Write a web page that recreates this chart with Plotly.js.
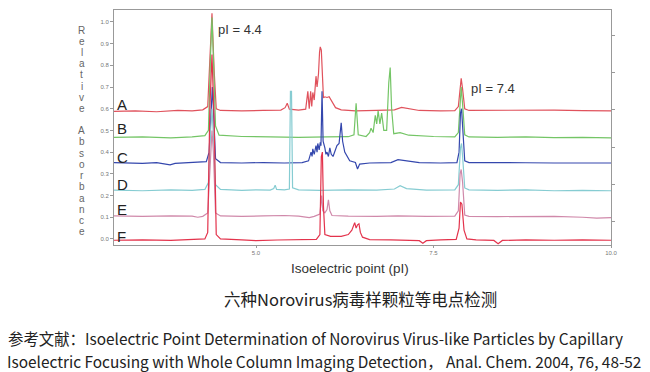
<!DOCTYPE html>
<html>
<head>
<meta charset="utf-8">
<script src="https://cdn.plot.ly/plotly-3.0.1.min.js"></script>
<style>
html,body{margin:0;padding:0;background:#fff;}
#chart{width:650px;height:372px;}
</style>
</head>
<body>
<div id="chart"></div>
<script>
// ---- data ----
const seriesNames = ["A", "B", "C", "D", "E", "F"];

const xA = [3.0,3.3,3.6,3.9,4.1,4.25,4.32,4.35,4.38,4.41,4.44,4.5,4.8,5.1,5.35,5.41,5.44,5.47,5.6,5.70,5.73,5.75,5.77,5.785,5.80,5.82,5.845,5.86,5.88,5.895,5.905,5.92,5.935,5.95,5.97,6.0,6.03,6.07,6.12,6.2,6.4,6.7,6.95,7.05,7.15,7.3,7.6,7.8,7.85,7.875,7.89,7.91,7.94,8.0,8.3,8.6,8.9,9.2,9.6,10.0];
const yA = [0.588,0.590,0.586,0.592,0.590,0.595,0.61,0.80,1.04,0.78,0.60,0.592,0.590,0.592,0.594,0.605,0.625,0.598,0.594,0.598,0.68,0.60,0.68,0.61,0.675,0.64,0.75,0.70,0.76,0.86,0.885,0.87,0.70,0.65,0.655,0.652,0.655,0.63,0.605,0.595,0.590,0.592,0.595,0.606,0.60,0.592,0.590,0.591,0.61,0.70,0.74,0.69,0.60,0.592,0.592,0.595,0.592,0.594,0.591,0.590];

const xB = [3.0,3.4,3.8,4.1,4.28,4.33,4.36,4.38,4.40,4.43,4.48,4.8,5.2,5.6,6.0,6.3,6.38,6.41,6.44,6.55,6.60,6.62,6.65,6.68,6.70,6.72,6.745,6.77,6.80,6.84,6.87,6.89,6.91,6.94,7.03,7.15,7.5,7.8,7.85,7.875,7.89,7.91,7.94,8.0,8.4,8.8,9.2,9.6,10.0];
const yB = [0.468,0.470,0.466,0.470,0.476,0.50,0.85,1.02,0.84,0.52,0.478,0.472,0.470,0.468,0.470,0.471,0.48,0.625,0.48,0.472,0.49,0.51,0.49,0.57,0.53,0.59,0.53,0.58,0.50,0.50,0.72,0.79,0.60,0.485,0.49,0.478,0.472,0.470,0.49,0.62,0.70,0.62,0.48,0.470,0.468,0.470,0.467,0.468,0.466];

const xC = [3.0,3.2,3.4,3.6,3.72,3.79,3.86,4.0,4.2,4.3,4.34,4.37,4.385,4.40,4.43,4.5,4.8,5.1,5.4,5.65,5.74,5.775,5.79,5.80,5.82,5.845,5.86,5.87,5.89,5.905,5.915,5.93,5.945,5.97,5.985,6.0,6.02,6.04,6.06,6.085,6.11,6.14,6.17,6.20,6.22,6.25,6.32,6.40,6.43,6.46,6.6,6.9,7.0,7.1,7.3,7.6,7.83,7.86,7.88,7.895,7.91,7.94,8.0,8.4,8.8,9.2,9.6,10.0];
const yC = [0.352,0.350,0.348,0.352,0.347,0.341,0.348,0.350,0.352,0.356,0.40,0.66,0.70,0.60,0.37,0.352,0.350,0.352,0.350,0.352,0.36,0.40,0.38,0.415,0.39,0.43,0.40,0.44,0.41,0.445,0.43,0.68,0.45,0.42,0.39,0.40,0.38,0.42,0.39,0.38,0.40,0.43,0.44,0.535,0.45,0.40,0.36,0.352,0.322,0.345,0.350,0.352,0.365,0.36,0.352,0.350,0.352,0.40,0.58,0.60,0.52,0.36,0.352,0.350,0.351,0.350,0.351,0.350];

const xD = [3.0,3.4,3.8,4.1,4.28,4.33,4.36,4.38,4.40,4.43,4.5,4.8,5.0,5.2,5.25,5.27,5.29,5.4,5.47,5.485,5.50,5.515,5.6,5.9,6.3,6.7,6.95,7.03,7.12,7.4,7.8,7.85,7.88,7.895,7.91,7.94,8.0,8.4,8.8,9.2,9.6,10.0];
const yD = [0.225,0.222,0.226,0.224,0.228,0.26,0.50,0.60,0.48,0.25,0.228,0.224,0.226,0.225,0.232,0.248,0.228,0.226,0.23,0.68,0.68,0.235,0.226,0.224,0.226,0.225,0.23,0.245,0.232,0.225,0.226,0.25,0.42,0.44,0.38,0.235,0.226,0.224,0.226,0.222,0.224,0.222];

const xE = [3.0,3.4,3.8,4.1,4.18,4.25,4.32,4.36,4.38,4.40,4.43,4.5,4.8,5.1,5.4,5.6,5.75,5.82,5.9,5.925,5.94,5.97,6.0,6.02,6.04,6.07,6.3,6.7,7.0,7.4,7.8,7.85,7.875,7.89,7.91,7.94,8.0,8.4,8.8,9.2,9.6,9.8,10.0];
const yE = [0.106,0.104,0.106,0.105,0.100,0.104,0.12,0.40,0.50,0.40,0.12,0.106,0.104,0.106,0.108,0.105,0.098,0.104,0.115,0.20,0.13,0.12,0.135,0.18,0.13,0.108,0.105,0.104,0.106,0.104,0.105,0.13,0.30,0.32,0.26,0.11,0.104,0.103,0.105,0.104,0.100,0.096,0.098];

const xF = [3.0,3.4,3.8,4.1,4.28,4.32,4.35,4.38,4.41,4.44,4.5,4.8,5.0,5.3,5.6,5.85,5.90,5.92,5.935,5.95,5.97,6.05,6.2,6.3,6.35,6.37,6.39,6.41,6.43,6.45,6.47,6.50,6.6,6.9,7.2,7.30,7.35,7.40,7.6,7.82,7.86,7.88,7.9,7.93,7.97,8.1,8.35,8.41,8.47,8.8,9.2,9.6,10.0];
const yF = [-0.006,-0.004,-0.007,-0.004,0.0,0.03,0.60,0.85,0.55,0.02,0.0,-0.004,-0.008,-0.005,-0.004,-0.002,0.02,0.38,0.40,0.15,0.02,0.012,0.012,0.02,0.04,0.055,0.075,0.05,0.065,0.07,0.03,0.008,-0.003,-0.004,-0.005,-0.008,-0.02,-0.008,-0.004,-0.002,0.05,0.17,0.16,0.04,0.0,-0.004,-0.007,-0.022,-0.007,-0.004,-0.006,-0.004,-0.006];

const xTickVals = [5.0, 7.5, 10.0];
const xTickText = ["5.0", "7.5", "10.0"];
const peakLabels = ["pI = 4.4", "pI = 7.4"];
const xTitle = "Isoelectric point (pI)";
const yTitle = "Relative Absorbance";
const caption = "六种Norovirus病毒样颗粒等电点检测";
const refLine1 = "参考文献：Isoelectric Point Determination of Norovirus Virus-like Particles by Capillary";
const refLine2 = "Isoelectric Focusing with Whole Column Imaging Detection， Anal. Chem. 2004, 76, 48-52";

// ---- chart ----
const colors = ["#e0525c", "#74c566", "#3447ad", "#86ccd2", "#d089aa", "#e3334c"];
const xs = [xA, xB, xC, xD, xE, xF];
const ys = [yA, yB, yC, yD, yE, yF];

const traces = seriesNames.map((n, i) => ({
  type: "scatter", mode: "lines", name: n,
  x: xs[i], y: ys[i],
  line: {color: colors[i], width: 1.2},
  hoverinfo: "skip"
}));
// empty trace so the right-hand tick axis is drawn
traces.push({type: "scatter", mode: "lines", x: [], y: [], yaxis: "y2", showlegend: false, hoverinfo: "skip"});

const sans = "Liberation Sans, Arial, sans-serif";
const cjk = "Noto Sans CJK SC, sans-serif";
const plotTop = 10, plotH = 235;
const pyToPaper = py => (plotTop + plotH - py) / plotH;

const letterY = [0.62, 0.51, 0.375, 0.25, 0.135, 0.012];
const annotations = seriesNames.map((n, i) => ({
  x: 3.02, y: letterY[i], xref: "x", yref: "y", text: n, showarrow: false,
  xanchor: "left", yanchor: "middle",
  font: {family: sans, size: 15, color: "#222"}
}));
// vertical stacked y title, one upright letter per line
yTitle.split("").forEach((c, k) => {
  if (c === " ") return;
  annotations.push({x: -0.065, y: pyToPaper(30 + k * 11.2), xref: "paper", yref: "paper", text: c, showarrow: false,
    xanchor: "center", yanchor: "middle", font: {family: sans, size: 10, color: "#666"}});
});
annotations.push(
  {x: 4.44, y: 0.965, xref: "x", yref: "y", text: peakLabels[0], showarrow: false, xanchor: "left", yanchor: "middle",
   font: {family: sans, size: 13, color: "#333"}},
  {x: 8.0, y: 0.695, xref: "x", yref: "y", text: peakLabels[1], showarrow: false, xanchor: "left", yanchor: "middle",
   font: {family: sans, size: 13, color: "#333"}},
  {x: 0.475, y: pyToPaper(268), xref: "paper", yref: "paper", text: xTitle, showarrow: false, xanchor: "center", yanchor: "middle",
   font: {family: sans, size: 13.5, color: "#333"}},
  {x: 0.495, y: pyToPaper(299), xref: "paper", yref: "paper", text: caption, showarrow: false, xanchor: "center", yanchor: "middle",
   font: {family: cjk, size: 16.5, color: "#222"}},
  {x: -0.217, y: pyToPaper(338), xref: "paper", yref: "paper", text: refLine1, showarrow: false, xanchor: "left", yanchor: "middle",
   font: {family: cjk, size: 15.4, color: "#222"}},
  {x: -0.217, y: pyToPaper(361), xref: "paper", yref: "paper", text: refLine2, showarrow: false, xanchor: "left", yanchor: "middle",
   borderpad: 0, font: {family: cjk, size: 15.4, color: "#222"}}
);

const layout = {
  width: 650, height: 372,
  margin: {l: 114, r: 39, t: 10, b: 127, pad: 0},
  paper_bgcolor: "#fff", plot_bgcolor: "#fff",
  showlegend: false,
  xaxis: {range: [3, 10], tickvals: xTickVals, ticktext: xTickText, showgrid: false, zeroline: false,
          showline: true, linecolor: "#999", linewidth: 1, mirror: true, ticks: "outside", ticklen: 2, tickcolor: "#999",
          tickfont: {family: sans, size: 6, color: "#777"}},
  yaxis: {range: [-0.028, 1.055], dtick: 0.1, tick0: 0, tickformat: ".1f", showgrid: false, zeroline: false,
          showline: true, linecolor: "#999", linewidth: 1, ticks: "outside", ticklen: 3, tickcolor: "#999",
          tickfont: {family: sans, size: 6, color: "#777"}},
  yaxis2: {overlaying: "y", side: "right", range: [-0.62, 5.68], dtick: 1, tick0: 0, showticklabels: false,
           showgrid: false, zeroline: false, showline: true, linecolor: "#999", ticks: "outside", ticklen: 3, tickcolor: "#999"},
  annotations: annotations
};

Plotly.newPlot("chart", traces, layout, {staticPlot: true, displayModeBar: false});
</script>
</body>
</html>
